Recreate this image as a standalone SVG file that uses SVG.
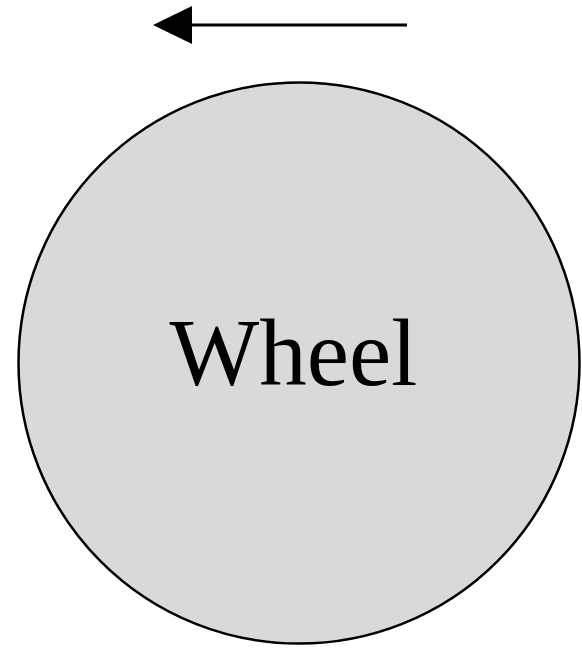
<svg xmlns="http://www.w3.org/2000/svg" width="582" height="648" viewBox="0 0 582 648">
<style>
.wheel{fill:#d9d9d9;stroke:#000;stroke-width:2.5}
.lbl{font-family:"Liberation Serif","Times New Roman",serif;font-size:95px;fill:#000}
.conn{stroke:#000;stroke-width:3;fill:none}
</style>
<rect width="582" height="648" fill="#fff"/>
<g id="wheel">
<circle class="wheel" cx="299" cy="363" r="280.5"/>
<text class="lbl" x="293.5" y="385" text-anchor="middle">Wheel</text>
</g>
<g id="connectors">
<line class="conn" x1="407" y1="25" x2="190" y2="25"/>
<polygon points="153,25 192,6 192,44" fill="#000"/>
</g>
</svg>
